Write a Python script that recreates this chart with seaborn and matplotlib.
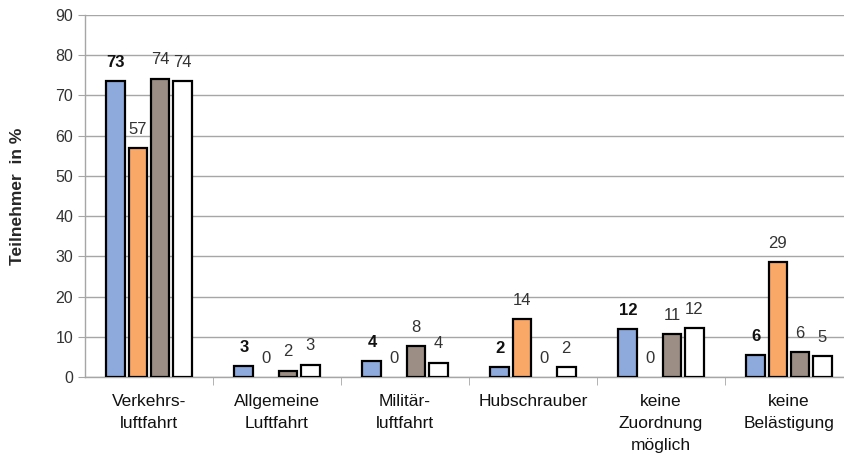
import pandas as pd
import numpy as np
import matplotlib.pyplot as plt
import seaborn as sns

# --- data ---
categories = ['Verkehrs-\nluftfahrt', 'Allgemeine\nLuftfahrt', 'Militär-\nluftfahrt',
              'Hubschrauber', 'keine\nZuordnung\nmöglich', 'keine\nBelästigung']
series = ['S1', 'S2', 'S3', 'S4']
blue_vals = [73.5, 2.8, 4.0, 2.5, 12.0, 5.5]
orange_vals = [57.0, 0.0, 0.0, 14.3, 0.0, 28.5]
gray_vals = [74.2, 1.6, 7.6, 0.0, 10.6, 6.1]
white_vals = [73.6, 3.1, 3.6, 2.4, 12.2, 5.2]
blue_labels = ['73', '3', '4', '2', '12', '6']
orange_labels = ['57', '0', '0', '14', '0', '29']
gray_labels = ['74', '2', '8', '0', '11', '6']
white_labels = ['74', '3', '4', '2', '12', '5']

colors = ['#8EA9DB', '#F9A868', '#9C8E84', '#FFFFFF']

df = pd.DataFrame({
    'Kategorie': categories * 4,
    'Serie': np.repeat(series, len(categories)),
    'Wert': blue_vals + orange_vals + gray_vals + white_vals,
})

sns.set_style("white")
plt.rcParams['font.family'] = ['Liberation Sans', 'DejaVu Sans']

fig = plt.figure(figsize=(8.45, 4.59), dpi=100)
ax = fig.add_axes([85 / 845, 1 - 377 / 459, 1 - 85 / 845, (377 - 15) / 459])

sns.barplot(data=df, x='Kategorie', y='Wert', hue='Serie', order=categories,
            hue_order=series, palette=colors, saturation=1, width=0.69, gap=0.15,
            edgecolor='black', linewidth=1.6, legend=False, ax=ax, zorder=3)

# hide zero-height bars (no visible outline in the reference)
for p in ax.patches:
    if p.get_height() == 0:
        p.set_linewidth(0)

# value labels
all_labels = [blue_labels, orange_labels, gray_labels, white_labels]
for i, cont in enumerate(ax.containers):
    ax.bar_label(cont, labels=all_labels[i], padding=8, fontsize=12,
                 fontweight='bold' if i == 0 else 'normal',
                 color='#111111' if i == 0 else '#333333')

ax.set_ylim(0, 90)
ax.set_yticks(range(0, 91, 10))
ax.set_xlim(-0.5, -0.5 + (845 - 85) / 128)
ax.yaxis.grid(True, color='#A6A6A6', linewidth=1)
ax.set_axisbelow(True)

for s in ['top', 'right']:
    ax.spines[s].set_visible(False)
for s in ['left', 'bottom']:
    ax.spines[s].set_color('#A6A6A6')
    ax.spines[s].set_linewidth(1)

ax.tick_params(axis='y', which='major', length=5, color='#A6A6A6', labelsize=11.5,
               labelcolor='#333333', left=True)
ax.tick_params(axis='x', which='major', length=0, labelsize=12.5, labelcolor='#111111', pad=12)
for t in ax.get_xticklabels():
    t.set_linespacing(1.6)
ax.set_xticks(np.arange(0.5, 5.5, 1), minor=True)
ax.tick_params(axis='x', which='minor', length=6, color='#A6A6A6', bottom=True)

ax.set_xlabel('')
ax.set_ylabel('Teilnehmer  in %', fontsize=12.5, fontweight='bold', labelpad=22)

plt.savefig('out.png', dpi=100)
